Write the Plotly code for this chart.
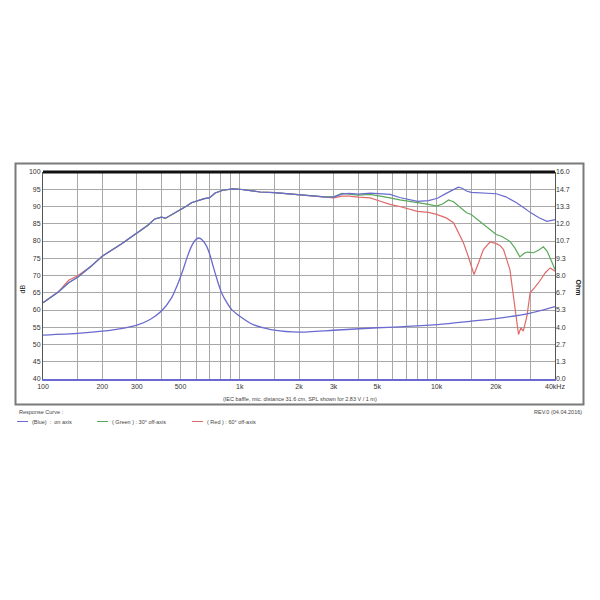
import math
import plotly.graph_objects as go

# ---------------- data ----------------
# shared low/mid-frequency part (all three curves coincide here)
low_f = [100, 120, 135, 150, 175, 200, 250, 300, 340, 370, 400, 420, 450, 480, 506, 540,
         568, 600, 626, 660, 700, 750, 820, 920, 1000, 1100, 1270, 1500, 1800, 2000, 2400, 2700]
low_spl = [62.1, 65.3, 67.9, 69.5, 72.6, 75.6, 79.1, 82.2, 84.5, 86.4, 86.9, 86.6, 87.6, 88.4, 89.1, 90.2,
           91.1, 91.6, 92.0, 92.3, 92.5, 93.9, 94.7, 95.1, 95.0, 94.6, 94.2, 94.0, 93.6, 93.4, 93.1, 92.8]

# on-axis (blue) high-frequency part
blue_f = [3000, 3300, 3600, 4000, 4600, 5000, 5800, 6500, 7200, 8000, 9100, 10100, 11200, 12200,
          12900, 13500, 14200, 15000, 17000, 20100, 22500, 25500, 28000, 29900, 33000, 36400, 38500, 40000]
blue_spl = [92.7, 93.6, 93.8, 93.6, 93.9, 93.7, 93.5, 92.6, 92.0, 91.5, 91.7, 92.4, 93.8, 95.0,
            95.6, 95.3, 94.5, 94.1, 94.0, 93.7, 92.8, 91.1, 89.5, 88.3, 86.8, 85.7, 86.0, 86.2]

# 30 deg off-axis (green)
green_f = [3000, 3300, 3600, 4000, 4600, 5000, 5800, 6500, 7200, 8000, 9100, 10000, 10800, 11500,
           12200, 13000, 14200, 15000, 16500, 18000, 20100, 21500, 23600, 25000, 26500, 28000, 29000,
           31100, 33000, 34900, 36500, 38500, 40000]
green_spl = [92.8, 93.8, 93.6, 93.3, 93.5, 93.2, 92.5, 91.9, 91.6, 91.1, 90.6, 90.1, 90.8, 91.9,
             91.4, 90.0, 88.2, 87.7, 85.8, 84.3, 81.9, 81.3, 79.9, 78.0, 75.4, 76.5, 76.8,
             76.6, 77.3, 78.3, 77.0, 74.0, 71.7]

# 60 deg off-axis (red)
red_f = [3000, 3300, 3600, 4000, 4600, 5000, 5800, 6500, 7200, 8000, 9100, 10000, 11200, 12200,
         12700, 13700, 14500, 15500, 16300, 17300, 18700, 20000, 21000, 21900, 23600, 24100, 25100,
         26100, 26800, 27600, 28800, 29900, 31500, 33000, 35700, 37800, 40000]
red_spl = [92.5, 93.0, 93.0, 92.7, 92.5, 91.8, 90.6, 90.0, 89.2, 88.6, 88.3, 87.7, 86.7, 85.3,
           83.3, 79.5, 75.5, 70.3, 73.5, 77.5, 79.7, 79.3, 78.7, 77.5, 71.7, 67.9, 60.1,
           52.9, 54.8, 53.9, 58.2, 65.0, 66.5, 67.9, 70.8, 72.2, 71.2]
# small low-frequency deviation of the red curve
red_low_dev_f = [135, 150]
red_low_dev_spl = [68.6, 69.9]

# impedance (Ohm)
imp_f = [100, 150, 200, 250, 300, 350, 400, 450, 480, 515, 540, 569, 595, 619, 645, 678, 705,
         732, 770, 808, 860, 910, 1000, 1170, 1500, 2000, 3000, 5000, 6500, 10000, 15000, 20000,
         30000, 40000]
imp_ohm = [3.39, 3.52, 3.70, 3.90, 4.16, 4.60, 5.25, 6.27, 7.2, 8.45, 9.4, 10.27, 10.75, 10.9,
           10.75, 10.27, 9.6, 8.72, 7.6, 6.67, 5.9, 5.36, 4.85, 4.2, 3.77, 3.62, 3.77, 3.96, 4.03,
           4.2, 4.48, 4.67, 5.1, 5.6]

# axis ticks
grid_f = [100, 150, 200, 300, 400, 500, 600, 700, 800, 900,
          1000, 1500, 2000, 3000, 4000, 5000, 6000, 7000, 8000, 9000,
          10000, 15000, 20000, 30000, 40000]
label_f = {100: "100", 200: "200", 300: "300", 500: "500", 1000: "1k", 2000: "2k",
           3000: "3k", 5000: "5k", 10000: "10k", 20000: "20k", 40000: "40kHz"}
db_ticks = list(range(40, 101, 5))
ohm_labels = ["0.0", "1.3", "2.7", "4.0", "5.3", "6.7", "8.0", "9.3", "10.7", "12.0", "13.3", "14.7", "16.0"]

# ---------------- build ----------------
BLUE = "#6a6ad0"
GREEN = "#5aa85a"
RED = "#e06a6a"
FONT = "Liberation Sans, Arial, sans-serif"


def merge_low(dev_f, dev_spl):
    d = dict(zip(low_f, low_spl))
    d.update(dict(zip(dev_f, dev_spl)))
    fs = sorted(d)
    return fs, [d[f] for f in fs]


fig = go.Figure()

rl_f, rl_s = merge_low(red_low_dev_f, red_low_dev_spl)
fig.add_trace(go.Scatter(x=rl_f + red_f, y=rl_s + red_spl, mode="lines",
                         line=dict(color=RED, width=1.2), name="Red", showlegend=False))
fig.add_trace(go.Scatter(x=low_f + green_f, y=low_spl + green_spl, mode="lines",
                         line=dict(color=GREEN, width=1.2), name="Green", showlegend=False))
fig.add_trace(go.Scatter(x=low_f + blue_f, y=low_spl + blue_spl, mode="lines",
                         line=dict(color=BLUE, width=1.2), name="Blue", showlegend=False))
fig.add_trace(go.Scatter(x=imp_f, y=imp_ohm, mode="lines", yaxis="y2",
                         line=dict(color=BLUE, width=1.3, shape="spline", smoothing=0.6),
                         name="Impedance", showlegend=False))

# the page body adds an 8px offset, so margins are shifted by 8px
fig.update_layout(
    width=600, height=600,
    margin=dict(l=35, r=53, t=164, b=229),
    paper_bgcolor="white", plot_bgcolor="white",
    font=dict(family=FONT, size=7, color="#333"),
    xaxis=dict(type="log", range=[2, math.log10(40000)],
               tickmode="array", tickvals=grid_f,
               ticktext=[label_f.get(f, "") for f in grid_f],
               showgrid=True, gridcolor="#a8a8a8", gridwidth=1,
               showline=True, linecolor=BLUE, linewidth=2,
               ticks="", tickfont=dict(size=7, color="#333"), zeroline=False),
    yaxis=dict(range=[40, 100], tickmode="array", tickvals=db_ticks,
               showgrid=True, gridcolor="#a8a8a8", gridwidth=1,
               showline=True, mirror=True, linecolor="#555", linewidth=1,
               ticks="", tickfont=dict(size=7, color="#333"), zeroline=False),
    yaxis2=dict(overlaying="y", side="right", range=[0, 16], tickmode="array",
                tickvals=[i * 16 / 12 for i in range(13)], ticktext=ohm_labels,
                showgrid=False, ticks="", tickfont=dict(size=7, color="#333"), zeroline=False),
)


def px(xp):
    return (xp - 43) / 512.0


def py(yp):
    return (379.5 - yp) / 207.0


shapes = [
    # outer frame
    dict(type="rect", xref="paper", yref="paper", x0=px(15.5), x1=px(583.5), y0=py(405), y1=py(164),
         line=dict(color="#7a7a7a", width=2), layer="below"),
    # thick top line
    dict(type="line", xref="paper", yref="paper", x0=0, x1=1, y0=1, y1=1,
         line=dict(color="#111", width=3)),
    # legend line samples
    dict(type="line", xref="paper", yref="paper", x0=px(17), x1=px(28), y0=py(422), y1=py(422),
         line=dict(color=BLUE, width=1)),
    dict(type="line", xref="paper", yref="paper", x0=px(97), x1=px(108), y0=py(422), y1=py(422),
         line=dict(color=GREEN, width=1)),
    dict(type="line", xref="paper", yref="paper", x0=px(192), x1=px(203), y0=py(422), y1=py(422),
         line=dict(color=RED, width=1)),
]
fig.update_layout(shapes=shapes)

small = dict(family=FONT, size=5.5, color="#444")
ann = [
    dict(text="dB", x=px(22), y=py(290), textangle=-90, font=dict(family=FONT, size=7, color="#222")),
    dict(text="<b>Ohm</b>", x=px(578), y=py(288), textangle=90, font=dict(family=FONT, size=7, color="#222")),
    dict(text="(IEC baffle, mic. distance 31.6 cm, SPL shown for 2.83 V / 1 m)", x=px(300), y=py(399), font=small),
    dict(text="Response Curve :", x=px(17), y=py(412), xanchor="left", font=small),
    dict(text="(Blue)  :  on axis", x=px(30), y=py(422), xanchor="left", font=small),
    dict(text="( Green ) : 30° off-axis", x=px(110), y=py(422), xanchor="left", font=small),
    dict(text="( Red ) : 60° off-axis", x=px(205), y=py(422), xanchor="left", font=small),
    dict(text="REV.0 (04.04.2016)", x=px(584), y=py(412), xanchor="right", font=small),
]
for a in ann:
    a.setdefault("xanchor", "center")
    a.update(xref="paper", yref="paper", showarrow=False, yanchor="middle")
fig.update_layout(annotations=ann)

fig.write_html("out.html")
